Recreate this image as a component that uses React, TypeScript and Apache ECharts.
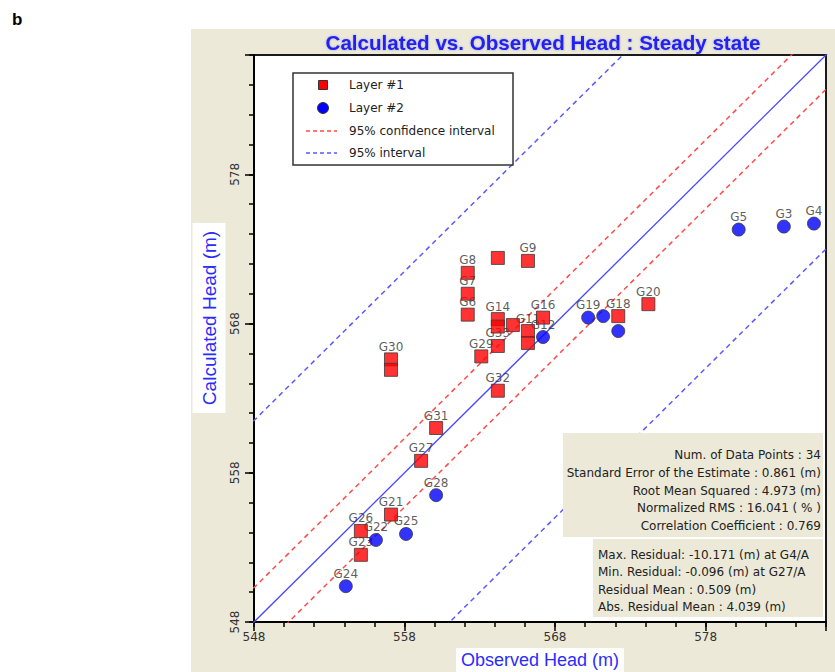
import React, { useEffect, useRef } from "react";
import * as echarts from "echarts";

// ---- Data ----
const layer1Names = [
  "G8", "G10", "G9", "G7", "G6", "G14", "G15", "G13", "G16", "G11", "G34",
  "G33", "G29", "G30", "G35", "G32", "G31", "G20", "G18", "G27", "G21", "G26", "G23",
];
const layer1Observed = [
  562.2, 564.2, 566.2, 562.2, 562.2, 564.2, 564.2, 565.2, 567.2, 566.2, 566.2,
  564.2, 563.1, 557.1, 557.1, 564.2, 560.1, 574.2, 572.2, 559.1, 557.1, 555.1, 555.1,
];
const layer1Calculated = [
  571.4, 572.4, 572.2, 570.0, 568.6, 568.3, 567.8, 567.9, 568.4, 567.5, 566.7,
  566.5, 565.8, 565.6, 564.9, 563.5, 561.0, 569.3, 568.5, 558.8, 555.2, 554.1, 552.5,
];
const layer1ShowLabel = [
  true, false, true, true, true, true, false, false, true, true, false,
  true, true, true, false, true, true, true, true, true, true, true, true,
];

const layer2Names = ["G12", "G5", "G3", "G4", "G19", "G17", "G1", "G28", "G25", "G22", "G24"];
const layer2Observed = [567.2, 580.2, 583.2, 585.2, 570.2, 571.2, 572.2, 560.1, 558.1, 556.1, 554.1];
const layer2Calculated = [567.1, 574.3, 574.5, 574.7, 568.4, 568.5, 567.5, 556.5, 553.9, 553.5, 550.4];
const layer2ShowLabel = [true, true, true, true, true, false, false, true, true, true, true];

const axisMin = 548;
const axisMax = 586;
const majorStep = 10;
const minorStep = 2;

const confidenceOffsets = [2.3, -2.3];
const intervalOffsets = [13.5, -13.0];

const legendLabels = ["Layer #1", "Layer #2", "95% confidence interval", "95% interval"];

const statsLines = [
  "Num. of Data Points : 34",
  "Standard Error of the Estimate : 0.861 (m)",
  "Root Mean Squared : 4.973 (m)",
  "Normalized RMS : 16.041 ( % )",
  "Correlation Coefficient : 0.769",
];
const residualLines = [
  "Max. Residual: -10.171 (m) at G4/A",
  "Min. Residual: -0.096 (m) at G27/A",
  "Residual Mean : 0.509 (m)",
  "Abs. Residual Mean : 4.039 (m)",
];

const titleText = "Calculated vs. Observed Head : Steady state";
const xName = "Observed Head (m)";
const yName = "Calculated Head (m)";

// ---- Styling ----
const SANS = "'Liberation Sans', Arial, sans-serif";
const TAHOMA = "'DejaVu Sans', Verdana, sans-serif";
const BEIGE = "#ECE9D8";
const TITLE_BLUE = "#2323F0";
const NAME_BLUE = "#2B2BFF";
const LINE_BLUE = "#4848FF";
const DASH_RED = "#FF4A4A";
const DASH_BLUE = "#5A5AFF";

function points(names: string[], xs: number[], ys: number[], show: boolean[]) {
  return names.map((n, i) => ({ name: n, value: [xs[i], ys[i]], label: { show: show[i] } }));
}

function offsetLine(off: number) {
  return [
    [axisMin - 20, axisMin - 20 + off],
    [axisMax + 20, axisMax + 20 + off],
  ];
}

export default function App() {
  const ref = useRef<HTMLDivElement>(null);

  useEffect(() => {
    if (!ref.current) return;
    const chart = echarts.init(ref.current, null, { renderer: "svg" });

    const l1 = points(layer1Names, layer1Observed, layer1Calculated, layer1ShowLabel);
    const l2 = points(layer2Names, layer2Observed, layer2Calculated, layer2ShowLabel);

    const labelSeries = (data: any[], symbol: string) => ({
      type: "scatter",
      name: "labels",
      z: 3,
      silent: true,
      symbol,
      symbolSize: 13,
      itemStyle: { color: "rgba(0,0,0,0)" },
      label: {
        position: "top",
        distance: 0,
        formatter: "{b}",
        color: "#333",
        fontSize: 12,
        fontFamily: TAHOMA,
      },
      data,
    });

    const dashedLine = (name: string, off: number, color: string) => ({
      type: "line",
      name,
      z: 2,
      silent: true,
      symbol: "none",
      clip: true,
      lineStyle: { color, width: 1.5, type: [5, 4] },
      data: offsetLine(off),
    });

    const legendX = 293;
    const legendY = 73;
    const rowsY = [85, 108, 131, 153];

    const option: any = {
      animation: false,
      backgroundColor: "#ffffff",
      title: {
        text: titleText,
        left: 538,
        top: 27,
        textAlign: "center",
        textStyle: {
          color: TITLE_BLUE,
          fontSize: 20.6,
          fontWeight: "bold",
          fontFamily: SANS,
          textShadowColor: "rgba(40,40,255,0.35)",
          textShadowBlur: 2,
        },
      },
      grid: {
        left: 254,
        right: 9,
        top: 55,
        bottom: 50,
        show: true,
        containLabel: false,
        outerBoundsMode: "none",
        backgroundColor: "#ffffff",
        borderColor: "#1a1a1a",
        borderWidth: 2,
      },
      xAxis: [
        {
          type: "value",
          min: axisMin,
          max: axisMax,
          interval: majorStep,
          position: "bottom",
          axisLine: { show: true, onZero: false, lineStyle: { color: "#000", width: 2 } },
          axisTick: { show: true, length: 9, lineStyle: { color: "#000", width: 1.5 } },
          axisLabel: {
            margin: 9,
            fontSize: 12,
            fontFamily: TAHOMA,
            color: "#333",
            formatter: (v: number) => ((v - axisMin) % majorStep === 0 ? String(v) : ""),
          },
          splitLine: { show: false },
          name: xName,
          nameLocation: "middle",
          nameGap: 26,
          nameTextStyle: {
            color: NAME_BLUE,
            fontSize: 18,
            fontFamily: SANS,
            backgroundColor: "#ffffff",
            padding: [3, 5, 5, 5],
          },
        },
        {
          type: "value",
          min: axisMin,
          max: axisMax,
          interval: minorStep,
          position: "bottom",
          axisLine: { show: false, onZero: false },
          axisTick: { show: true, length: 5, lineStyle: { color: "#000", width: 1.5 } },
          axisLabel: { show: false },
          splitLine: { show: false },
        },
      ],
      yAxis: [
        {
          type: "value",
          min: axisMin,
          max: axisMax,
          interval: majorStep,
          position: "left",
          axisLine: { show: true, onZero: false, lineStyle: { color: "#000", width: 2 } },
          axisTick: { show: true, length: 9, lineStyle: { color: "#000", width: 1.5 } },
          axisLabel: {
            rotate: 90,
            margin: 13,
            fontSize: 12,
            fontFamily: TAHOMA,
            color: "#333",
            formatter: (v: number) => ((v - axisMin) % majorStep === 0 ? String(v) : ""),
          },
          splitLine: { show: false },
        },
        {
          type: "value",
          min: axisMin,
          max: axisMax,
          interval: minorStep,
          position: "left",
          axisLine: { show: false, onZero: false },
          axisTick: { show: true, length: 5, lineStyle: { color: "#000", width: 1.5 } },
          axisLabel: { show: false },
          splitLine: { show: false },
        },
      ],
      series: [
        {
          type: "line",
          name: "1:1",
          z: 2,
          silent: true,
          symbol: "none",
          clip: true,
          lineStyle: { color: LINE_BLUE, width: 1.3 },
          data: offsetLine(0),
        },
        dashedLine(legendLabels[2], confidenceOffsets[0], DASH_RED),
        dashedLine(legendLabels[2], confidenceOffsets[1], DASH_RED),
        dashedLine(legendLabels[3], intervalOffsets[0], DASH_BLUE),
        dashedLine(legendLabels[3], intervalOffsets[1], DASH_BLUE),
        labelSeries(l1, "rect"),
        labelSeries(l2, "circle"),
        {
          type: "scatter",
          name: legendLabels[0],
          z: 4,
          symbol: "rect",
          symbolSize: 13,
          itemStyle: { color: "#FF0000", borderColor: "#3a3a3a", borderWidth: 1 },
          label: { show: false },
          data: l1.map((d) => ({ name: d.name, value: d.value })),
        },
        {
          type: "scatter",
          name: legendLabels[1],
          z: 4,
          symbol: "circle",
          symbolSize: 13,
          itemStyle: { color: "#0000FF", borderColor: "#3a3a3a", borderWidth: 1 },
          label: { show: false },
          data: l2.map((d) => ({ name: d.name, value: d.value })),
        },
      ],
      graphic: [
        // beige panel behind the plot
        {
          type: "rect",
          z: -10,
          silent: true,
          shape: { x: 191, y: 29, width: 644, height: 643 },
          style: { fill: BEIGE },
        },
        {
          type: "text",
          z: 10,
          x: 12,
          y: 11,
          style: { text: "b", fontSize: 17, fontWeight: "bold", fontFamily: SANS, fill: "#000" },
        },
        // y axis title in its white box
        {
          type: "text",
          z: 10,
          x: 209,
          y: 318,
          rotation: Math.PI / 2,
          style: {
            text: yName,
            fontSize: 19,
            fontFamily: SANS,
            fill: NAME_BLUE,
            align: "center",
            verticalAlign: "middle",
            backgroundColor: "#ffffff",
            padding: [7, 8, 7, 8],
          },
        },
        // legend
        {
          type: "rect",
          z: 100,
          shape: { x: legendX, y: legendY, width: 220, height: 92 },
          style: { fill: "#fff", stroke: "#333", lineWidth: 1.5 },
        },
        {
          type: "rect",
          z: 101,
          shape: { x: 318.5, y: rowsY[0] - 4.5, width: 9, height: 9 },
          style: { fill: "#FF0000", stroke: "#333", lineWidth: 1 },
        },
        {
          type: "circle",
          z: 101,
          shape: { cx: 323, cy: rowsY[1], r: 5.5 },
          style: { fill: "#0000FF", stroke: "#333", lineWidth: 1 },
        },
        {
          type: "line",
          z: 101,
          shape: { x1: 306, y1: rowsY[2], x2: 337, y2: rowsY[2] },
          style: { stroke: DASH_RED, lineWidth: 1.5, lineDash: [4, 3] },
        },
        {
          type: "line",
          z: 101,
          shape: { x1: 306, y1: rowsY[3], x2: 337, y2: rowsY[3] },
          style: { stroke: DASH_BLUE, lineWidth: 1.5, lineDash: [4, 3] },
        },
        ...legendLabels.map((t, i) => ({
          type: "text",
          z: 101,
          x: 349,
          y: rowsY[i],
          style: {
            text: t,
            fontSize: 12,
            fontFamily: TAHOMA,
            fill: "#222",
            verticalAlign: "middle",
            align: "left",
          },
        })),
        // statistics boxes
        {
          type: "rect",
          z: 100,
          shape: { x: 563, y: 433, width: 260, height: 104 },
          style: { fill: BEIGE },
        },
        {
          type: "rect",
          z: 100,
          shape: { x: 593, y: 539, width: 230, height: 78 },
          style: { fill: BEIGE },
        },
        ...statsLines.map((t, i) => ({
          type: "text",
          z: 101,
          x: 821,
          y: 455 + i * 17.8,
          style: {
            text: t,
            fontSize: 12,
            fontFamily: TAHOMA,
            fill: "#222",
            align: "right",
            verticalAlign: "middle",
          },
        })),
        ...residualLines.map((t, i) => ({
          type: "text",
          z: 101,
          x: 598,
          y: 555 + i * 17.4,
          style: {
            text: t,
            fontSize: 12,
            fontFamily: TAHOMA,
            fill: "#222",
            align: "left",
            verticalAlign: "middle",
          },
        })),
      ],
    };

    chart.setOption(option);
    return () => chart.dispose();
  }, []);

  return (
    <div
      ref={ref}
      style={{ position: "fixed", left: 0, top: 0, width: 835, height: 672, background: "#fff" }}
    />
  );
}
